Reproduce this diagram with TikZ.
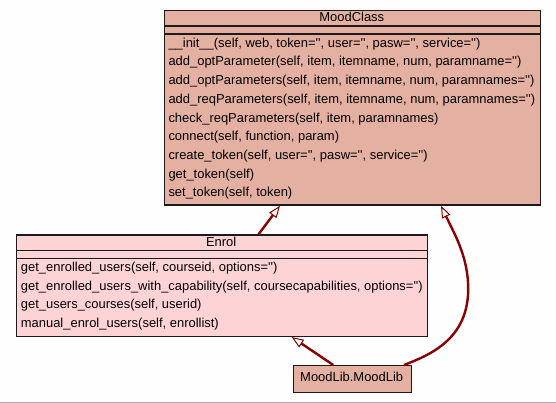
\documentclass[tikz,border=0pt]{standalone}
\usepackage{fontspec}
\newfontfamily\umlfont{Liberation Sans}
\usetikzlibrary{arrows.meta,calc}
\definecolor{bg}{HTML}{FDFEFD}
\definecolor{classfill}{HTML}{E4B0A2}
\definecolor{enrolfill}{HTML}{FED3D6}
\definecolor{inhred}{HTML}{880000}
\definecolor{edgecol}{HTML}{1E1A1A}
\definecolor{greyline}{HTML}{A8A8A8}
\tikzset{
  classbox/.style={draw=edgecol, line width=1.3pt, inner sep=0pt, anchor=north west},
  method/.style={anchor=base west, inner sep=0pt},
  ctitle/.style={anchor=base, inner sep=0pt},
  sepline/.style={draw=edgecol, line width=1.3pt},
  inh/.style={draw=inhred, line width=2.4pt,
    -{Triangle[length=12pt,width=9pt,fill=white,line width=1pt]}}
}
\begin{document}
\begin{tikzpicture}[x=1pt,y=-1pt,font=\umlfont\fontsize{12.95}{15}\selectfont]
\fill[bg] (0,0) rectangle (556,403);
\useasboundingbox (0,0) rectangle (556,403);
\draw[draw=greyline, line width=1pt] (0,402.5) -- (556,402.5);

% MoodClass
\node[classbox, fill=classfill, minimum width=376.5pt, minimum height=194.5pt] (moodclass) at (163.5,10) {};
\node[ctitle] (mctitle) at (351.8,21.7) {MoodClass};
\draw[sepline] (163.5,26) -- (540,26);
\draw[sepline] (163.5,34) -- (540,34);
\node[method] (m1) at (168.3,47.3) {\_\_init\_\_(self, web, token='', user='', pasw='', service='')};
\node[method] (m2) at (168.3,66.0) {add\_optParameter(self, item, itemname, num, paramname='')};
\node[method] (m3) at (168.3,84.7) {add\_optParameters(self, item, itemname, num, paramnames='')};
\node[method] (m4) at (168.3,103.4) {add\_reqParameters(self, item, itemname, num, paramnames='')};
\node[method] (m5) at (168.3,122.1) {check\_reqParameters(self, item, paramnames)};
\node[method] (m6) at (168.3,140.8) {connect(self, function, param)};
\node[method] (m7) at (168.3,159.5) {create\_token(self, user='', pasw='', service='')};
\node[method] (m8) at (168.3,178.2) {get\_token(self)};
\node[method] (m9) at (168.3,196.9) {set\_token(self, token)};

% Enrol
\node[classbox, fill=enrolfill, minimum width=411pt, minimum height=101.4pt] (enrol) at (15.7,234.3) {};
\node[ctitle] (etitle) at (221.2,246) {Enrol};
\draw[sepline] (15.7,250.7) -- (426.7,250.7);
\draw[sepline] (15.7,258.5) -- (426.7,258.5);
\node[method] (e1) at (20.7,271.3) {get\_enrolled\_users(self, courseid, options='')};
\node[method] (e2) at (20.7,290.0) {get\_enrolled\_users\_with\_capability(self, coursecapabilities, options='')};
\node[method] (e3) at (20.7,308.7) {get\_users\_courses(self, userid)};
\node[method] (e4) at (20.7,327.4) {manual\_enrol\_users(self, enrollist)};

% MoodLib
\node[classbox, fill=classfill, minimum width=118pt, minimum height=26.7pt] (moodlib) at (292.7,365) {};
\node[ctitle] (mltitle) at (351.7,381.7) {MoodLib.MoodLib};

% inheritance
\draw[inh] ($(enrol.north west)+(242.8,0)$) -- ($(moodclass.south west)+(116.5,0)$);
\draw[inh] ($(moodlib.north west)+(40.6,0)$) -- ($(enrol.south west)+(276,0)$);
\draw[inh] ($(moodlib.north west)+(111.3,0)$) .. controls (430,355) and (465,340) .. (468,295)
  .. controls (470,260) and (455,235) .. ($(moodclass.south west)+(277.5,0)$);
\end{tikzpicture}
\end{document}
